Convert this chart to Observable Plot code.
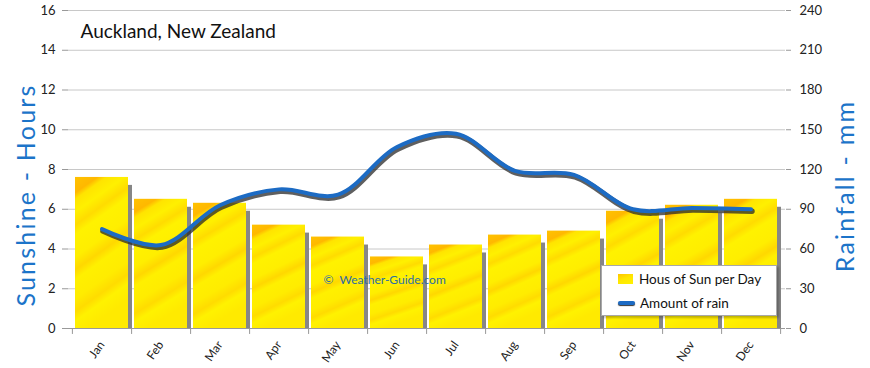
<!DOCTYPE html>
<html>
<head>
<meta charset="utf-8">
<script src="https://cdn.jsdelivr.net/npm/d3@7"></script>
<script src="https://cdn.jsdelivr.net/npm/@observablehq/plot@0.6"></script>
<style>
  html, body { margin: 0; padding: 0; background: #fff; }
  #wrap { position: relative; width: 870px; height: 368px; font-family: Lato, "DejaVu Sans", sans-serif; }
  #legend { position: absolute; left: 601px; top: 265px; width: 174px; height: 49px; background: #fff;
    border: 1px solid #a8a8a8; box-shadow: 2px 2px 2px rgba(0,0,0,0.25); font-size: 13.5px; color: #111; }
  #legend .row { position: absolute; left: 16px; display: flex; align-items: center; }
  #legend .sw1 { width: 15px; height: 10px; background: linear-gradient(160deg,#ffc400 0%,#ffe600 45%,#fff200 100%); margin-right: 6px; }
  #legend .sw2 { width: 17px; height: 4px; background: #1c6bc4; border-radius: 2px; margin-right: 5px; box-shadow: 0 1px 1px #333; }
  .ytitle { position: absolute; color: #1c74c9; font-size: 25px; letter-spacing: 2.2px; white-space: nowrap; transform: translate(-50%,-50%) rotate(-90deg); }
</style>
</head>
<body>
<div id="wrap">
  <div id="chart"></div>
  <div class="ytitle" style="left:25px; top:195px;">Sunshine - Hours</div>
  <div class="ytitle" style="left:844px; top:186px;">Rainfall - mm</div>
  <div id="legend">
    <div class="row" style="top:5px;"><span class="sw1"></span>Hous of Sun per Day</div>
    <div class="row" style="top:29px;"><span class="sw2"></span>Amount of rain</div>
  </div>
</div>
<script>
const months = ["Jan","Feb","Mar","Apr","May","Jun","Jul","Aug","Sep","Oct","Nov","Dec"];
const sunHours = [7.6, 6.5, 6.3, 5.2, 4.6, 3.6, 4.2, 4.7, 4.9, 5.9, 6.2, 6.5];
const rainMm = [75, 63, 93, 105, 101, 137, 147, 119, 116, 90, 91, 90];
const leftTicks = [0, 2, 4, 6, 8, 10, 12, 14, 16];
const rainPerHour = 15; // right axis: 240 mm over 16 hours
const titleText = "Auckland, New Zealand";
const watermark = "\u00A9  Weather-Guide.com";

const sunData = months.map((m, i) => ({month: m, sun: sunHours[i]}));
const rainData = months.map((m, i) => ({month: m, rain: rainMm[i], scaled: rainMm[i] / rainPerHour}));

const font = "Lato, 'DejaVu Sans', sans-serif";
const chart = Plot.plot({
  width: 870,
  height: 368,
  marginLeft: 68,
  marginRight: 85,
  marginTop: 10,
  marginBottom: 40,
  style: {fontFamily: font, fontSize: "13px", color: "#222", background: "transparent", overflow: "visible"},
  x: {domain: months, padding: 0.1, label: null},
  y: {domain: [0, 16], label: null},
  marks: [
    Plot.ruleY(leftTicks, {stroke: "#c8c8c8", strokeWidth: 1}),
    Plot.ruleX([0], {frameAnchor: "left", stroke: "#999"}),
    Plot.ruleX([0], {frameAnchor: "right", stroke: "#999"}),
    Plot.rectY(sunData, {x: "month", y1: 0, y2: d => d.sun - 0.4, fill: "#868686", dx: 4}),
    Plot.barY(sunData, {x: "month", y: "sun", fill: "url(#sunGrad)"}),
    Plot.ruleY([0], {stroke: "#999"}),
    Plot.ruleX(months, {x: d => d, dx: 29.6, y1: 0, y2: -0.3, stroke: "#999"}),
    Plot.ruleX(months.slice(0, 1), {x: d => d, dx: -29.6, y1: 0, y2: -0.3, stroke: "#999"}),
    Plot.axisY({ticks: leftTicks, tickSize: 6, tickPadding: 7, stroke: "#999", fill: "#222", label: null}),
    Plot.axisY({anchor: "right", ticks: leftTicks, tickSize: 5, tickPadding: 9, tickFormat: d => d * rainPerHour, stroke: "#999", fill: "#222", label: null}),
    Plot.axisX({tickSize: 0, tickRotate: -55, tickPadding: 14, fontSize: 12, fill: "#222", label: null}),
    Plot.text([watermark], {frameAnchor: "bottom-left", dx: 255, dy: -45, text: d => d, fill: "#2e6da4", fontSize: 12, textAnchor: "start"}),
    Plot.line(rainData, {x: "month", y: "scaled", curve: "catmull-rom", stroke: "#2a2a2a", strokeOpacity: 0.75, strokeWidth: 5.5, dx: 1, dy: 2}),
    Plot.line(rainData, {x: "month", y: "scaled", curve: "catmull-rom", stroke: "#1c6bc4", strokeWidth: 4, strokeLinecap: "round"}),
    Plot.text([titleText], {frameAnchor: "top-left", dx: 12, dy: 14, text: d => d, fontSize: 19, fill: "#111", textAnchor: "start"})
  ]
});

// yellow/orange streaked gradient for the sunshine bars
const ns = "http://www.w3.org/2000/svg";
const defs = document.createElementNS(ns, "defs");
const grad = document.createElementNS(ns, "linearGradient");
grad.setAttribute("id", "sunGrad");
grad.setAttribute("x1", "0"); grad.setAttribute("y1", "0");
grad.setAttribute("x2", "0.25"); grad.setAttribute("y2", "1");
const stops = [
  [0, "#ffc200"], [0.1, "#ffb800"], [0.14, "#ffe400"], [0.22, "#fff000"], [0.3, "#ffdc00"],
  [0.36, "#fff200"], [0.5, "#ffee00"], [0.58, "#ffd800"], [0.64, "#fff000"], [0.76, "#ffec00"],
  [0.84, "#ffdc00"], [0.9, "#fff200"], [1, "#ffea00"]
];
for (const [o, c] of stops) {
  const s = document.createElementNS(ns, "stop");
  s.setAttribute("offset", o); s.setAttribute("stop-color", c);
  grad.appendChild(s);
}
defs.appendChild(grad);
chart.insertBefore(defs, chart.firstChild);

document.getElementById("chart").appendChild(chart);
</script>
</body>
</html>
